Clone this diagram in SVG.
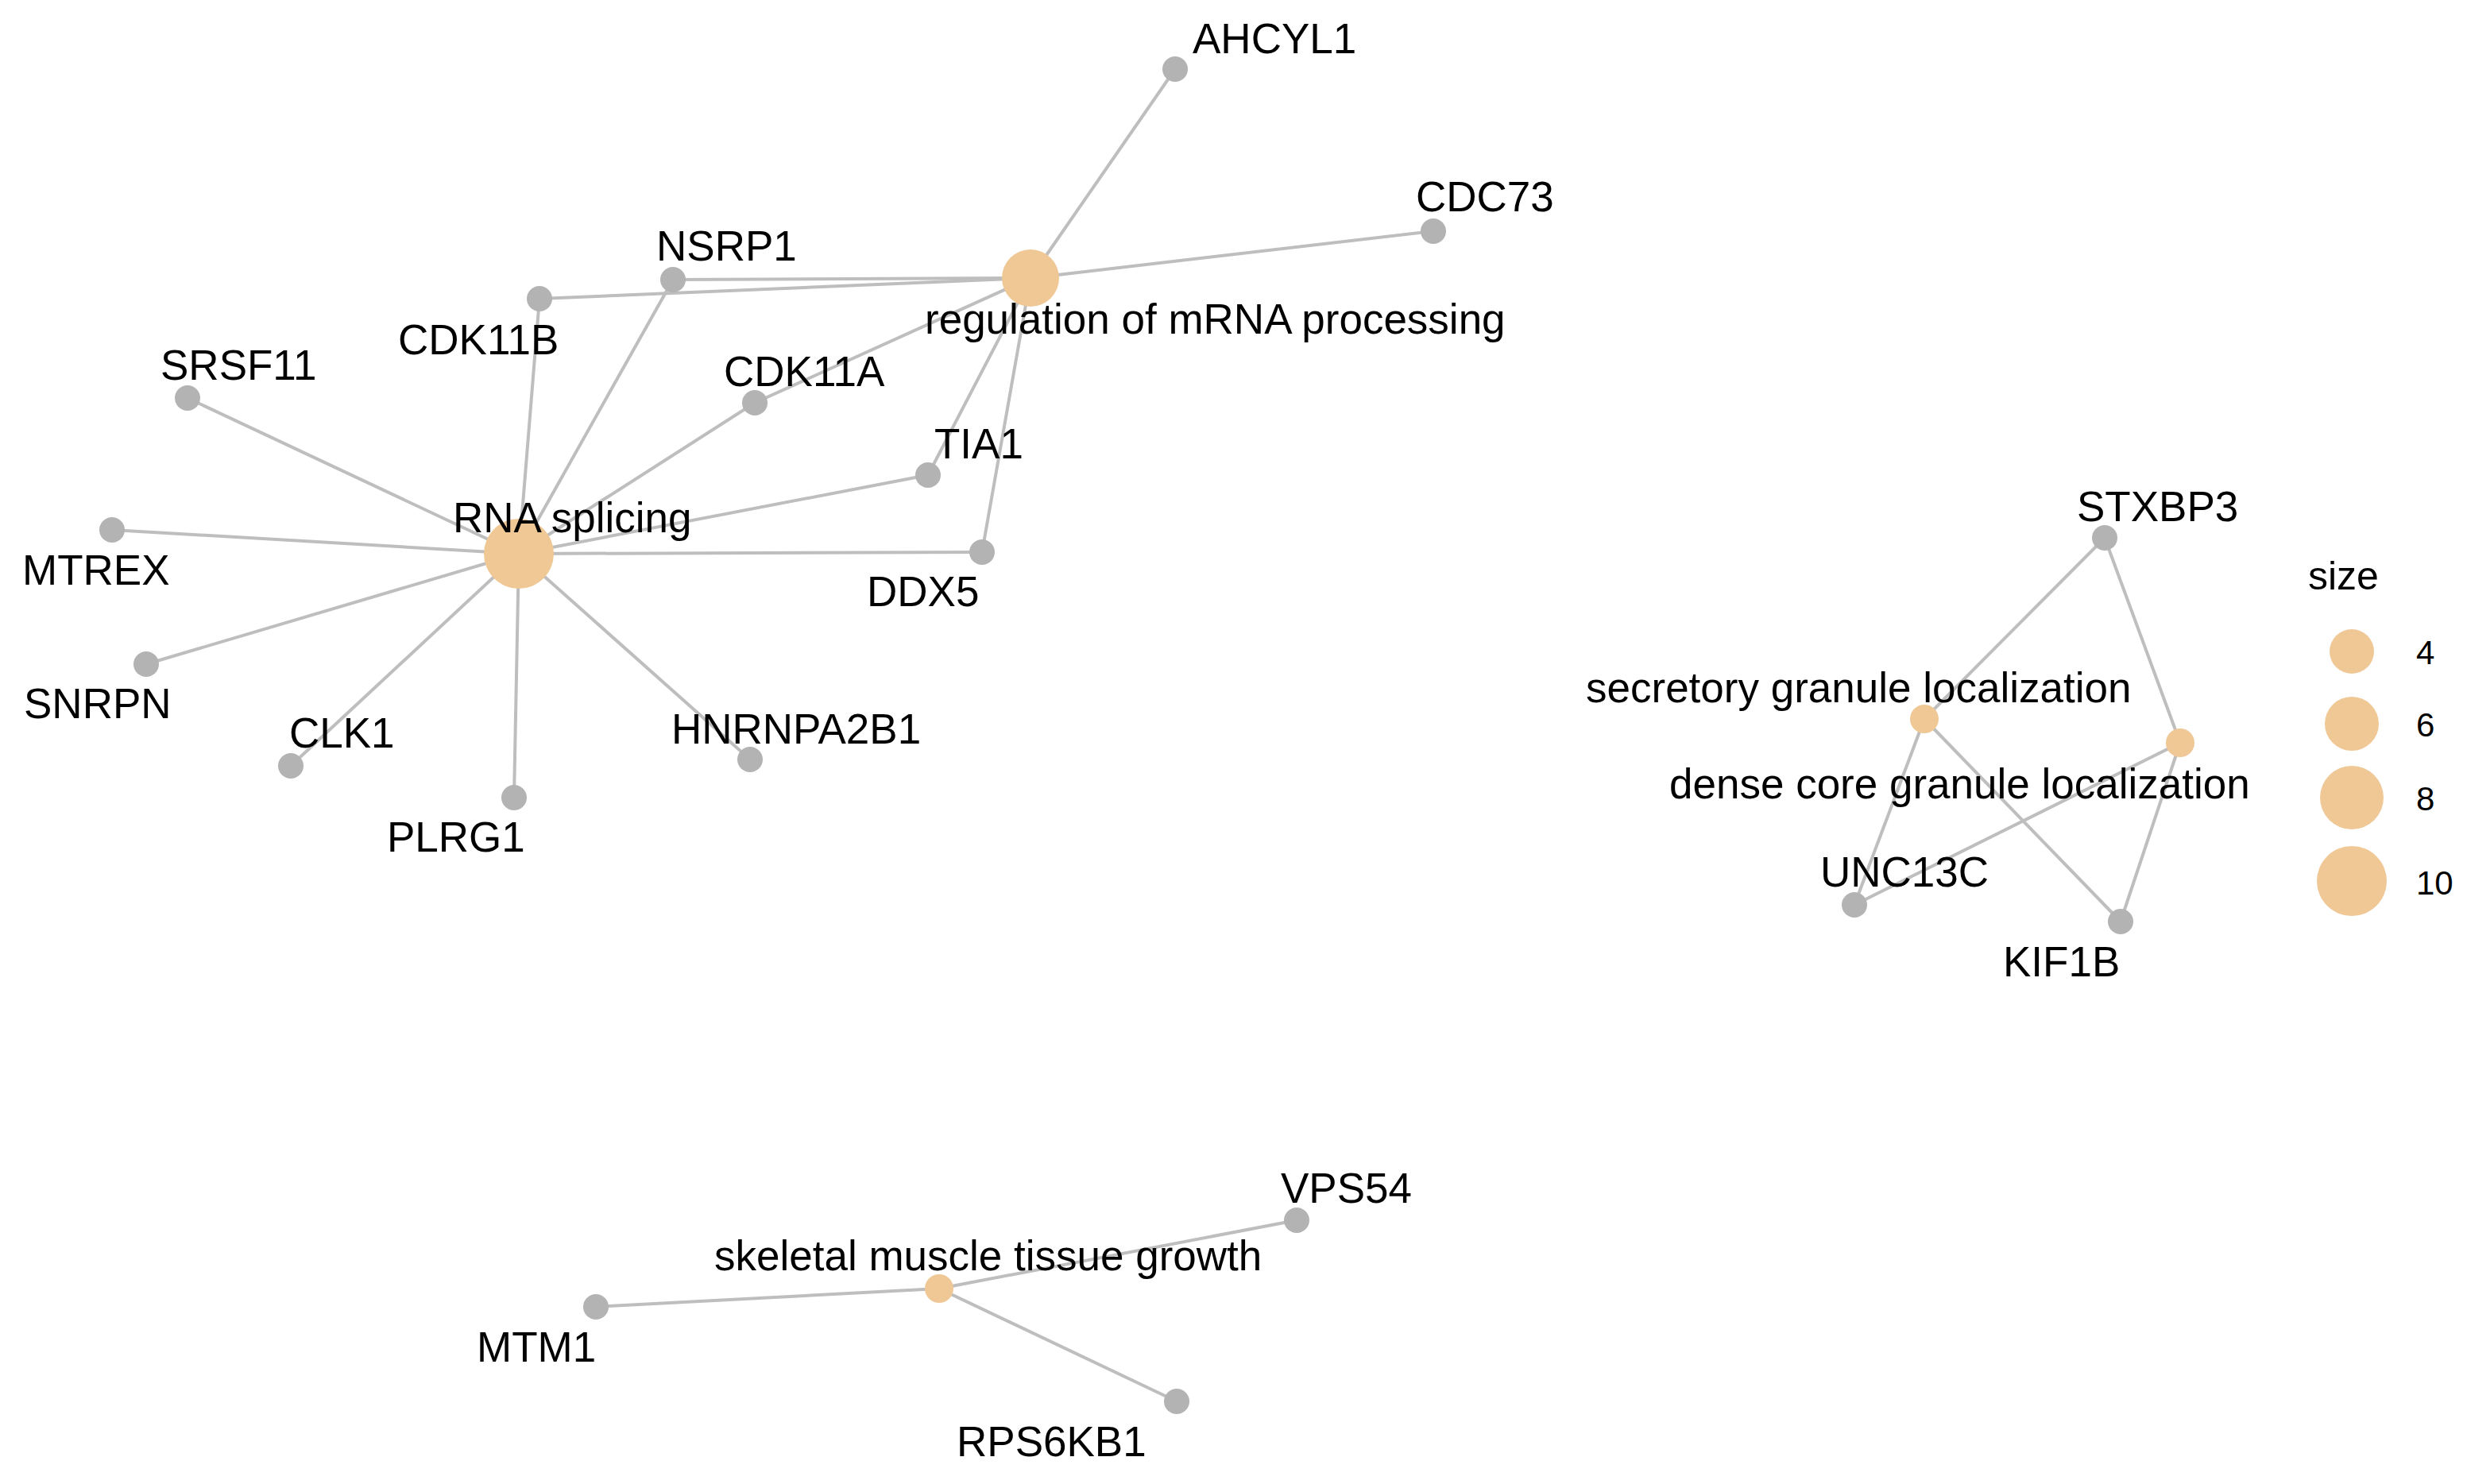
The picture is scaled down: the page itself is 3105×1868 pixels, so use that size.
<svg xmlns="http://www.w3.org/2000/svg" width="3105" height="1868" viewBox="0 0 3105 1868">
<style>
text{font-family:"Liberation Sans",Arial,sans-serif;font-size:53px;fill:#000}
.e{stroke:#BEBEBE;stroke-width:4;fill:none}
.g{fill:#B3B3B3}
.t{fill:#F0C896}
.l{font-size:42px}
</style>
<rect width="3105" height="1868" fill="#fff"/>
<g id="edges">
<line class="e" x1="1297" y1="350" x2="1479" y2="87"/>
<line class="e" x1="1297" y1="350" x2="1804" y2="291"/>
<line class="e" x1="1297" y1="350" x2="847" y2="352"/>
<line class="e" x1="1297" y1="350" x2="679" y2="376"/>
<line class="e" x1="1297" y1="350" x2="950" y2="507"/>
<line class="e" x1="1297" y1="350" x2="1168" y2="598"/>
<line class="e" x1="1297" y1="350" x2="1236" y2="695"/>
<line class="e" x1="653" y1="697" x2="236" y2="501"/>
<line class="e" x1="653" y1="697" x2="679" y2="376"/>
<line class="e" x1="653" y1="697" x2="847" y2="352"/>
<line class="e" x1="653" y1="697" x2="950" y2="507"/>
<line class="e" x1="653" y1="697" x2="1168" y2="598"/>
<line class="e" x1="653" y1="697" x2="141" y2="667"/>
<line class="e" x1="653" y1="697" x2="1236" y2="695"/>
<line class="e" x1="653" y1="697" x2="184" y2="836"/>
<line class="e" x1="653" y1="697" x2="366" y2="964"/>
<line class="e" x1="653" y1="697" x2="647" y2="1004"/>
<line class="e" x1="653" y1="697" x2="944" y2="956"/>
<line class="e" x1="2422" y1="905" x2="2649" y2="677"/>
<line class="e" x1="2422" y1="905" x2="2334" y2="1139"/>
<line class="e" x1="2422" y1="905" x2="2669" y2="1160"/>
<line class="e" x1="2744" y1="935" x2="2649" y2="677"/>
<line class="e" x1="2744" y1="935" x2="2334" y2="1139"/>
<line class="e" x1="2744" y1="935" x2="2669" y2="1160"/>
<line class="e" x1="1182" y1="1622" x2="1632" y2="1536"/>
<line class="e" x1="1182" y1="1622" x2="750" y2="1645"/>
<line class="e" x1="1182" y1="1622" x2="1481" y2="1764"/>
</g>
<g id="n-reg"><circle class="t" cx="1297" cy="350" r="36"/><text x="1164" y="420">regulation of mRNA processing</text></g>
<g id="n-rna"><circle class="t" cx="653" cy="697" r="44"/><text x="570" y="670">RNA splicing</text></g>
<g id="n-ahcyl1"><circle class="g" cx="1479" cy="87" r="16"/><text x="1501" y="67">AHCYL1</text></g>
<g id="n-cdc73"><circle class="g" cx="1804" cy="291" r="16"/><text x="1782" y="266">CDC73</text></g>
<g id="n-nsrp1"><circle class="g" cx="847" cy="352" r="16"/><text x="826" y="328">NSRP1</text></g>
<g id="n-cdk11b"><circle class="g" cx="679" cy="376" r="16"/><text x="501" y="446">CDK11B</text></g>
<g id="n-srsf11"><circle class="g" cx="236" cy="501" r="16"/><text x="202" y="478">SRSF11</text></g>
<g id="n-cdk11a"><circle class="g" cx="950" cy="507" r="16"/><text x="911" y="486">CDK11A</text></g>
<g id="n-tia1"><circle class="g" cx="1168" cy="598" r="16"/><text x="1176" y="577">TIA1</text></g>
<g id="n-mtrex"><circle class="g" cx="141" cy="667" r="16"/><text x="28" y="736">MTREX</text></g>
<g id="n-ddx5"><circle class="g" cx="1236" cy="695" r="16"/><text x="1091" y="763">DDX5</text></g>
<g id="n-snrpn"><circle class="g" cx="184" cy="836" r="16"/><text x="30" y="904">SNRPN</text></g>
<g id="n-clk1"><circle class="g" cx="366" cy="964" r="16"/><text x="364" y="941">CLK1</text></g>
<g id="n-hnrnpa2b1"><circle class="g" cx="944" cy="956" r="16"/><text x="845" y="936">HNRNPA2B1</text></g>
<g id="n-plrg1"><circle class="g" cx="647" cy="1004" r="16"/><text x="487" y="1072">PLRG1</text></g>
<g id="n-sec"><circle class="t" cx="2422" cy="905" r="18"/><text x="1996" y="884">secretory granule localization</text></g>
<g id="n-dense"><circle class="t" cx="2744" cy="935" r="18"/><text x="2101" y="1005">dense core granule localization</text></g>
<g id="n-stxbp3"><circle class="g" cx="2649" cy="677" r="16"/><text x="2614" y="656">STXBP3</text></g>
<g id="n-unc13c"><circle class="g" cx="2334" cy="1139" r="16"/><text x="2291" y="1116">UNC13C</text></g>
<g id="n-kif1b"><circle class="g" cx="2669" cy="1160" r="16"/><text x="2521" y="1229">KIF1B</text></g>
<g id="n-skel"><circle class="t" cx="1182" cy="1622" r="18"/><text x="899" y="1599">skeletal muscle tissue growth</text></g>
<g id="n-vps54"><circle class="g" cx="1632" cy="1536" r="16"/><text x="1612" y="1514">VPS54</text></g>
<g id="n-mtm1"><circle class="g" cx="750" cy="1645" r="16"/><text x="600" y="1714">MTM1</text></g>
<g id="n-rps6kb1"><circle class="g" cx="1481" cy="1764" r="16"/><text x="1204" y="1833">RPS6KB1</text></g>
<g id="legend">
<text x="2905" y="742" style="font-size:50px">size</text>
<circle class="t" cx="2960" cy="820" r="28"/><text class="l" x="3041" y="836">4</text>
<circle class="t" cx="2960" cy="911" r="34"/><text class="l" x="3041" y="927">6</text>
<circle class="t" cx="2960" cy="1004" r="40"/><text class="l" x="3041" y="1020">8</text>
<circle class="t" cx="2960" cy="1109" r="44"/><text class="l" x="3041" y="1126">10</text>
</g>
</svg>
